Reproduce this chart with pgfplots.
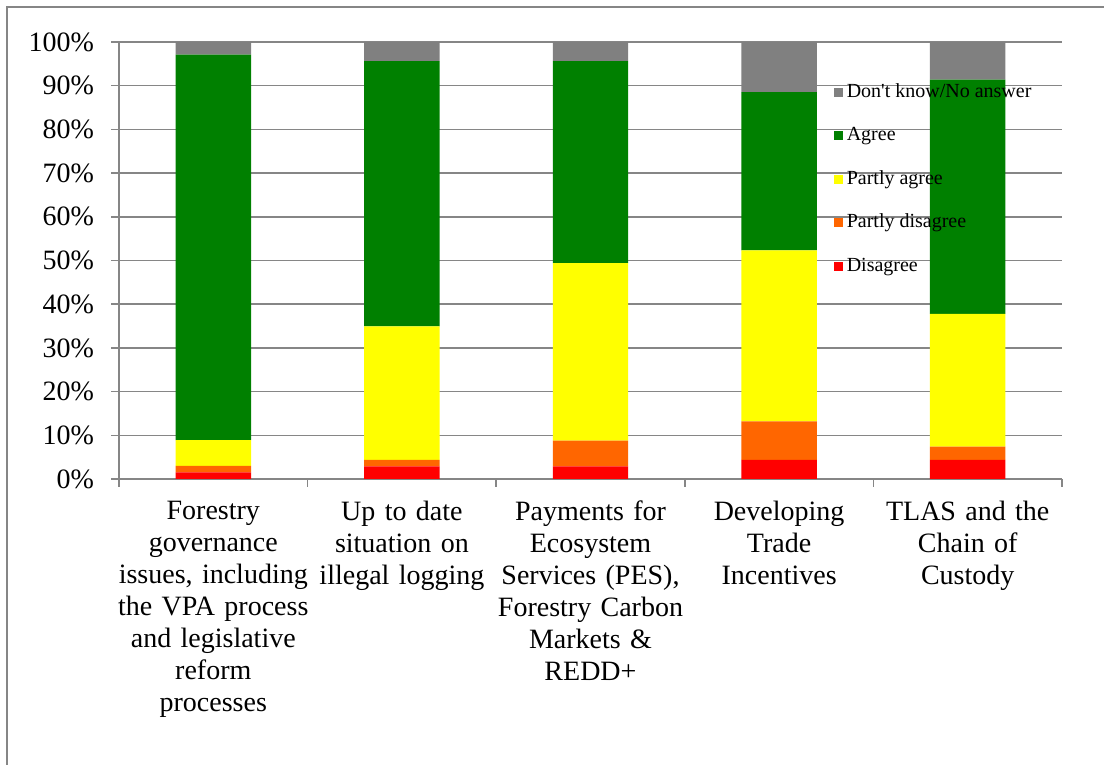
\documentclass[border=0pt]{standalone}
\usepackage{pgfplots}
\pgfplotsset{compat=1.18}
\usepackage{fontspec}
\setmainfont{Liberation Serif}
\definecolor{cgray}{RGB}{128,128,128}
\definecolor{cgreen}{RGB}{0,128,0}
\definecolor{cyellow}{RGB}{255,255,0}
\definecolor{corange}{RGB}{255,102,0}
\definecolor{cred}{RGB}{255,0,0}
\definecolor{gridgray}{RGB}{134,134,134}
\pgfplotsset{legimg/.style={legend image code/.code={\fill[##1] (0pt,-2.3pt) rectangle (4.6pt,2.3pt);}}}
\begin{document}
\begin{tikzpicture}
\path[use as bounding box] (0,0) rectangle (552pt,382.5pt);
\draw[color=gridgray, line width=0.75pt] (3.5pt,0pt) -- (3.5pt,379pt) -- (552pt,379pt);
\begin{axis}[
  at={(59.5pt,143pt)}, anchor=south west,
  scale only axis, width=471.5pt, height=218.5pt,
  ybar stacked, bar width=0.4,
  xmin=-0.5, xmax=4.5, ymin=0, ymax=100,
  xtick={-0.5,0.5,1.5,2.5,3.5,4.5},
  x tick label as interval,
  xticklabels={{Forestry\\governance\\issues, including\\the VPA process\\and legislative\\reform\\processes},
               {Up to date\\situation on\\illegal logging},
               {Payments for\\Ecosystem\\Services (PES),\\Forestry Carbon\\Markets \&\\REDD+},
               {Developing\\Trade\\Incentives},
               {TLAS and the\\Chain of\\Custody}},
  xticklabel style={text width=110pt, align=center, anchor=north, yshift=-3.5pt,
    font=\fontsize{14}{16}\selectfont},
  ytick={0,10,...,100},
  yticklabel={\pgfmathprintnumber{\tick}\%},
  /pgf/number format/assume math mode=true,
  yticklabel style={font=\fontsize{14}{16}\selectfont, xshift=-5pt},
  axis x line*=bottom, axis y line*=left,
  axis line style={gridgray, line width=0.75pt},
  tick align=outside, major tick length=4pt,
  tick style={gridgray, line width=0.75pt},
  ymajorgrids, grid style={gridgray, line width=0.75pt},
  reverse legend,
  legend cell align=left,
  legend style={at={(0.751,0.9245)}, anchor=north west, draw=none, fill=none,
    font=\fontsize{10}{12}\selectfont, row sep=8.75pt,
    nodes={inner xsep=2pt, inner ysep=2pt, text height=7pt, text depth=2pt}},
]
\addplot[fill=cred, draw=none, legimg] coordinates {(0,1.5) (1,2.9) (2,2.9) (3,4.4) (4,4.4)};
\addlegendentry{Disagree}
\addplot[fill=corange, draw=none, legimg] coordinates {(0,1.5) (1,1.5) (2,5.9) (3,8.8) (4,3.0)};
\addlegendentry{Partly disagree}
\addplot[fill=cyellow, draw=none, legimg] coordinates {(0,5.9) (1,30.5) (2,40.6) (3,39.1) (4,30.4)};
\addlegendentry{Partly agree}
\addplot[fill=cgreen, draw=none, legimg] coordinates {(0,88.2) (1,60.7) (2,46.2) (3,36.2) (4,53.6)};
\addlegendentry{Agree}
\addplot[fill=cgray, draw=none, legimg] coordinates {(0,2.9) (1,4.4) (2,4.4) (3,11.5) (4,8.6)};
\addlegendentry{Don\textquotesingle t know/No answer}
\end{axis}
\end{tikzpicture}
\end{document}
